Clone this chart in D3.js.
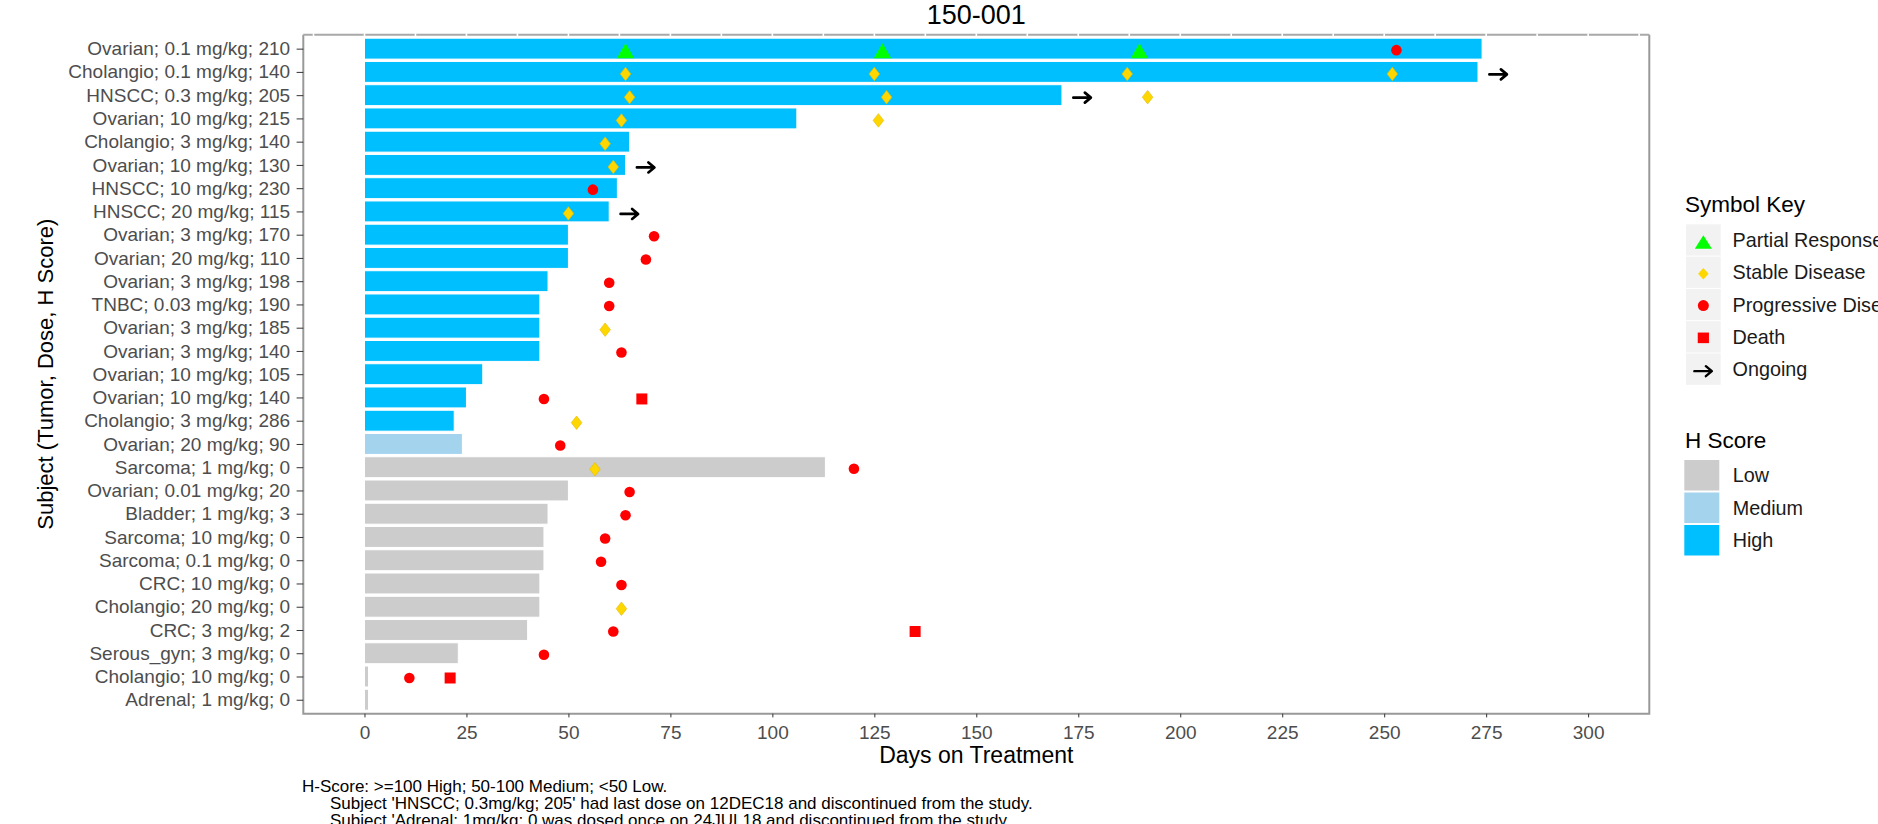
<!DOCTYPE html>
<html>
<head>
<meta charset="utf-8">
<script src="https://cdn.jsdelivr.net/npm/d3@7"></script>
<style>
  html, body { margin: 0; padding: 0; background: #ffffff; }
  svg { display: block; }
  text { font-family: "Liberation Sans", Arial, sans-serif; }
</style>
</head>
<body>
<svg id="chart" width="1878" height="824"></svg>
<script>
// ---------------- DATA ----------------
const subjects = [
  "Ovarian; 0.1 mg/kg; 210", "Cholangio; 0.1 mg/kg; 140", "HNSCC; 0.3 mg/kg; 205",
  "Ovarian; 10 mg/kg; 215", "Cholangio; 3 mg/kg; 140", "Ovarian; 10 mg/kg; 130",
  "HNSCC; 10 mg/kg; 230", "HNSCC; 20 mg/kg; 115", "Ovarian; 3 mg/kg; 170",
  "Ovarian; 20 mg/kg; 110", "Ovarian; 3 mg/kg; 198", "TNBC; 0.03 mg/kg; 190",
  "Ovarian; 3 mg/kg; 185", "Ovarian; 3 mg/kg; 140", "Ovarian; 10 mg/kg; 105",
  "Ovarian; 10 mg/kg; 140", "Cholangio; 3 mg/kg; 286", "Ovarian; 20 mg/kg; 90",
  "Sarcoma; 1 mg/kg; 0", "Ovarian; 0.01 mg/kg; 20", "Bladder; 1 mg/kg; 3",
  "Sarcoma; 10 mg/kg; 0", "Sarcoma; 0.1 mg/kg; 0", "CRC; 10 mg/kg; 0",
  "Cholangio; 20 mg/kg; 0", "CRC; 3 mg/kg; 2", "Serous_gyn; 3 mg/kg; 0",
  "Cholangio; 10 mg/kg; 0", "Adrenal; 1 mg/kg; 0"
];
const daysOnTreatment = [274, 273, 171, 106, 65, 64, 62, 60, 50, 50, 45, 43, 43, 43, 29,
  25, 22, 24, 113, 50, 45, 44, 44, 43, 43, 40, 23, 1, 1];
const hScoreGroup = ["High","High","High","High","High","High","High","High","High",
  "High","High","High","High","High","High","High","High","Medium",
  "Low","Low","Low","Low","Low","Low","Low","Low","Low","Low","Low"];

// [row index, day]
const partialResponse = [[0, 64], [0, 127], [0, 190]];
const stableDisease = [[1, 64], [1, 125], [1, 187], [1, 252], [2, 65], [2, 128], [2, 192],
  [3, 63], [3, 126], [4, 59], [5, 61], [7, 50], [12, 59], [16, 52], [18, 56.5], [24, 63]];
const progressiveDisease = [[0, 253], [6, 56], [8, 71], [9, 69], [10, 60], [11, 60],
  [13, 63], [15, 44], [17, 48], [18, 120], [19, 65], [20, 64], [21, 59], [22, 58],
  [23, 63], [25, 61], [26, 44], [27, 11]];
const death = [[15, 68], [25, 135], [27, 21]];
const ongoing = [[1, 278], [2, 176], [5, 69], [7, 65]];

const xTicks = [0, 25, 50, 75, 100, 125, 150, 175, 200, 225, 250, 275, 300];
const hScoreLevels = ["Low", "Medium", "High"];
const hScoreColors = ["#CCCCCC", "#A4D3EE", "#00BFFF"];
const symbolKeyLabels = ["Partial Response", "Stable Disease", "Progressive Disease", "Death", "Ongoing"];
const footnotes = [
  "H-Score: >=100 High; 50-100 Medium; <50 Low.",
  "Subject 'HNSCC; 0.3mg/kg; 205' had last dose on 12DEC18 and discontinued from the study.",
  "Subject 'Adrenal; 1mg/kg; 0 was dosed once on 24JUL18 and discontinued from the study"
];

// ---------------- LAYOUT ----------------
const P = { left: 303.3, right: 1649.3, top: 34.7, bottom: 713.7 };
const svg = d3.select("#chart");

const x = d3.scaleLinear().domain([-15, 315]).range([P.left, P.right]);
const y = d3.scalePoint().domain(subjects).range([P.top, P.bottom]).padding(0.6);
const color = d3.scaleOrdinal().domain(hScoreLevels).range(hScoreColors);
const step = y.step();
const barH = step * 0.9;

// ---------------- BARS ----------------
svg.append("g").selectAll("rect")
  .data(subjects)
  .join("rect")
  .attr("x", x(0))
  .attr("y", (d) => y(d) - barH / 2)
  .attr("width", (d, i) => x(daysOnTreatment[i]) - x(0))
  .attr("height", barH)
  .attr("fill", (d, i) => color(hScoreGroup[i]))
  .attr("stroke", "#ffffff")
  .attr("stroke-width", 1);

// ---------------- MARKERS ----------------
const triPath = (w, h) => `M0,${-h / 2}L${w / 2},${h / 2}L${-w / 2},${h / 2}Z`;
const diaPath = (w, h) => `M0,${-h / 2}L${w / 2},0L0,${h / 2}L${-w / 2},0Z`;
const arrowPath = "M-9,0L7,0M2.5,-5L8.5,0L2.5,5";

const mk = svg.append("g");
mk.selectAll("path.pr").data(partialResponse).join("path").attr("class", "pr")
  .attr("transform", (d) => `translate(${x(d[1])},${y(subjects[d[0]]) + 2})`)
  .attr("d", triPath(17.5, 15)).attr("fill", "#00FF00");
mk.selectAll("path.sd").data(stableDisease).join("path").attr("class", "sd")
  .attr("transform", (d) => `translate(${x(d[1])},${y(subjects[d[0]]) + 2})`)
  .attr("d", diaPath(10.6, 13.5)).attr("fill", "#FFD700")
  .attr("stroke", "#E0B800").attr("stroke-width", 0.6);
mk.selectAll("circle.pd").data(progressiveDisease).join("circle").attr("class", "pd")
  .attr("cx", (d) => x(d[1])).attr("cy", (d) => y(subjects[d[0]]) + 1.5)
  .attr("r", 5.3).attr("fill", "#FF0000");
mk.selectAll("rect.de").data(death).join("rect").attr("class", "de")
  .attr("x", (d) => x(d[1]) - 5.5).attr("y", (d) => y(subjects[d[0]]) + 1.5 - 5.5)
  .attr("width", 11).attr("height", 11).attr("fill", "#FF0000");
mk.selectAll("path.og").data(ongoing).join("path").attr("class", "og")
  .attr("transform", (d) => `translate(${x(d[1])},${y(subjects[d[0]]) + 2.5})`)
  .attr("d", arrowPath).attr("fill", "none").attr("stroke", "#000000")
  .attr("stroke-width", 2.7).attr("stroke-linecap", "round").attr("stroke-linejoin", "round");

// ---------------- PANEL BORDER ----------------
const border = svg.append("g").attr("fill", "none").attr("stroke", "#999999").attr("stroke-width", 2);
border.append("path").attr("d", `M${P.left},${P.top}L${P.left},${P.bottom}L${P.right},${P.bottom}L${P.right},${P.top}`);
border.append("path").attr("d", `M${P.left},${P.top}L${P.right},${P.top}`).attr("stroke", "#a8a8a8");
// white grid lines interrupting top border (major + minor positions)
svg.append("g").selectAll("line")
  .data(d3.range(-12.5, 313, 12.5))
  .join("line")
  .attr("x1", (d) => x(d)).attr("x2", (d) => x(d))
  .attr("y1", P.top - 1.5).attr("y2", P.top + 1.5)
  .attr("stroke", "#ffffff").attr("stroke-width", 1.6);

// ---------------- AXES ----------------
const yAxis = svg.append("g").attr("transform", `translate(${P.left},0)`)
  .call(d3.axisLeft(y).tickSize(6.7).tickPadding(6.5));
yAxis.select(".domain").remove();
yAxis.selectAll(".tick line").attr("stroke", "#333333");
yAxis.selectAll(".tick text").attr("fill", "#4D4D4D")
  .style("font-size", "19px").style("font-family", "'Liberation Sans', Arial, sans-serif");

const xAxis = svg.append("g").attr("transform", `translate(0,${P.bottom})`)
  .call(d3.axisBottom(x).tickValues(xTicks).tickSize(3.7).tickPadding(8));
xAxis.select(".domain").remove();
xAxis.selectAll(".tick line").attr("stroke", "#333333");
xAxis.selectAll(".tick text").attr("fill", "#4D4D4D")
  .style("font-size", "19px").style("font-family", "'Liberation Sans', Arial, sans-serif");

// ---------------- TITLES ----------------
const cx = (P.left + P.right) / 2;
svg.append("text").attr("x", cx).attr("y", 24).attr("text-anchor", "middle")
  .style("font-size", "27px").attr("fill", "#000").text("150-001");
svg.append("text").attr("x", cx).attr("y", 763).attr("text-anchor", "middle")
  .style("font-size", "23px").attr("fill", "#000").text("Days on Treatment");
svg.append("text").attr("transform", `translate(53,${(P.top + P.bottom) / 2}) rotate(-90)`)
  .attr("text-anchor", "middle")
  .style("font-size", "22px").attr("fill", "#000").text("Subject (Tumor, Dose, H Score)");

// ---------------- LEGEND: SYMBOL KEY ----------------
const lg = svg.append("g");
const keyX = 1686, keyW = 34.7, keyH = 31.3, keyPitch = 32.3, keyTop = 224.3;
lg.append("text").attr("x", 1685).attr("y", 211.7).style("font-size", "22.5px")
  .attr("fill", "#000").text("Symbol Key");
const sk = lg.selectAll("g.sk").data(symbolKeyLabels).join("g").attr("class", "sk")
  .attr("transform", (d, i) => `translate(${keyX},${keyTop + i * keyPitch})`);
sk.append("rect").attr("width", keyW).attr("height", keyH).attr("fill", "#F2F2F2");
sk.append("text").attr("x", 46.5).attr("y", keyH / 2).attr("dy", "0.36em")
  .style("font-size", "19.8px").attr("fill", "#1a1a1a").text((d) => d);
const kc = keyW / 2, kcy = keyH / 2;
sk.filter((d, i) => i === 0).append("path")
  .attr("transform", `translate(${kc},${kcy + 2})`).attr("d", triPath(17, 13.5)).attr("fill", "#00FF00");
sk.filter((d, i) => i === 1).append("path")
  .attr("transform", `translate(${kc},${kcy + 1.5})`).attr("d", diaPath(10.5, 11.5)).attr("fill", "#FFD700");
sk.filter((d, i) => i === 2).append("circle")
  .attr("cx", kc).attr("cy", kcy + 1).attr("r", 5.5).attr("fill", "#FF0000");
sk.filter((d, i) => i === 3).append("rect")
  .attr("x", kc - 5.6).attr("y", kcy + 1 - 5.3).attr("width", 11.2).attr("height", 10.6).attr("fill", "#FF0000");
sk.filter((d, i) => i === 4).append("path")
  .attr("transform", `translate(${kc},${kcy + 2})`).attr("d", arrowPath).attr("fill", "none")
  .attr("stroke", "#000").attr("stroke-width", 2.4).attr("stroke-linecap", "round").attr("stroke-linejoin", "round");

// ---------------- LEGEND: H SCORE ----------------
lg.append("text").attr("x", 1685).attr("y", 448.3).style("font-size", "22.5px")
  .attr("fill", "#000").text("H Score");
const hk = lg.selectAll("g.hk").data(hScoreLevels).join("g").attr("class", "hk")
  .attr("transform", (d, i) => `translate(1684.3,${460 + i * 32.5})`);
hk.append("rect").attr("width", 35).attr("height", 30.5).attr("fill", (d) => color(d));
hk.append("text").attr("x", 48.4).attr("y", 15.2).attr("dy", "0.36em")
  .style("font-size", "19.8px").attr("fill", "#1a1a1a").text((d) => d);

// ---------------- FOOTNOTES ----------------
const fnX = [302, 330, 330];
const fnY = [792, 809, 826];
svg.append("g").selectAll("text").data(footnotes).join("text")
  .attr("x", (d, i) => fnX[i]).attr("y", (d, i) => fnY[i])
  .style("font-size", "17px").attr("fill", "#000").text((d) => d);
</script>
</body>
</html>
